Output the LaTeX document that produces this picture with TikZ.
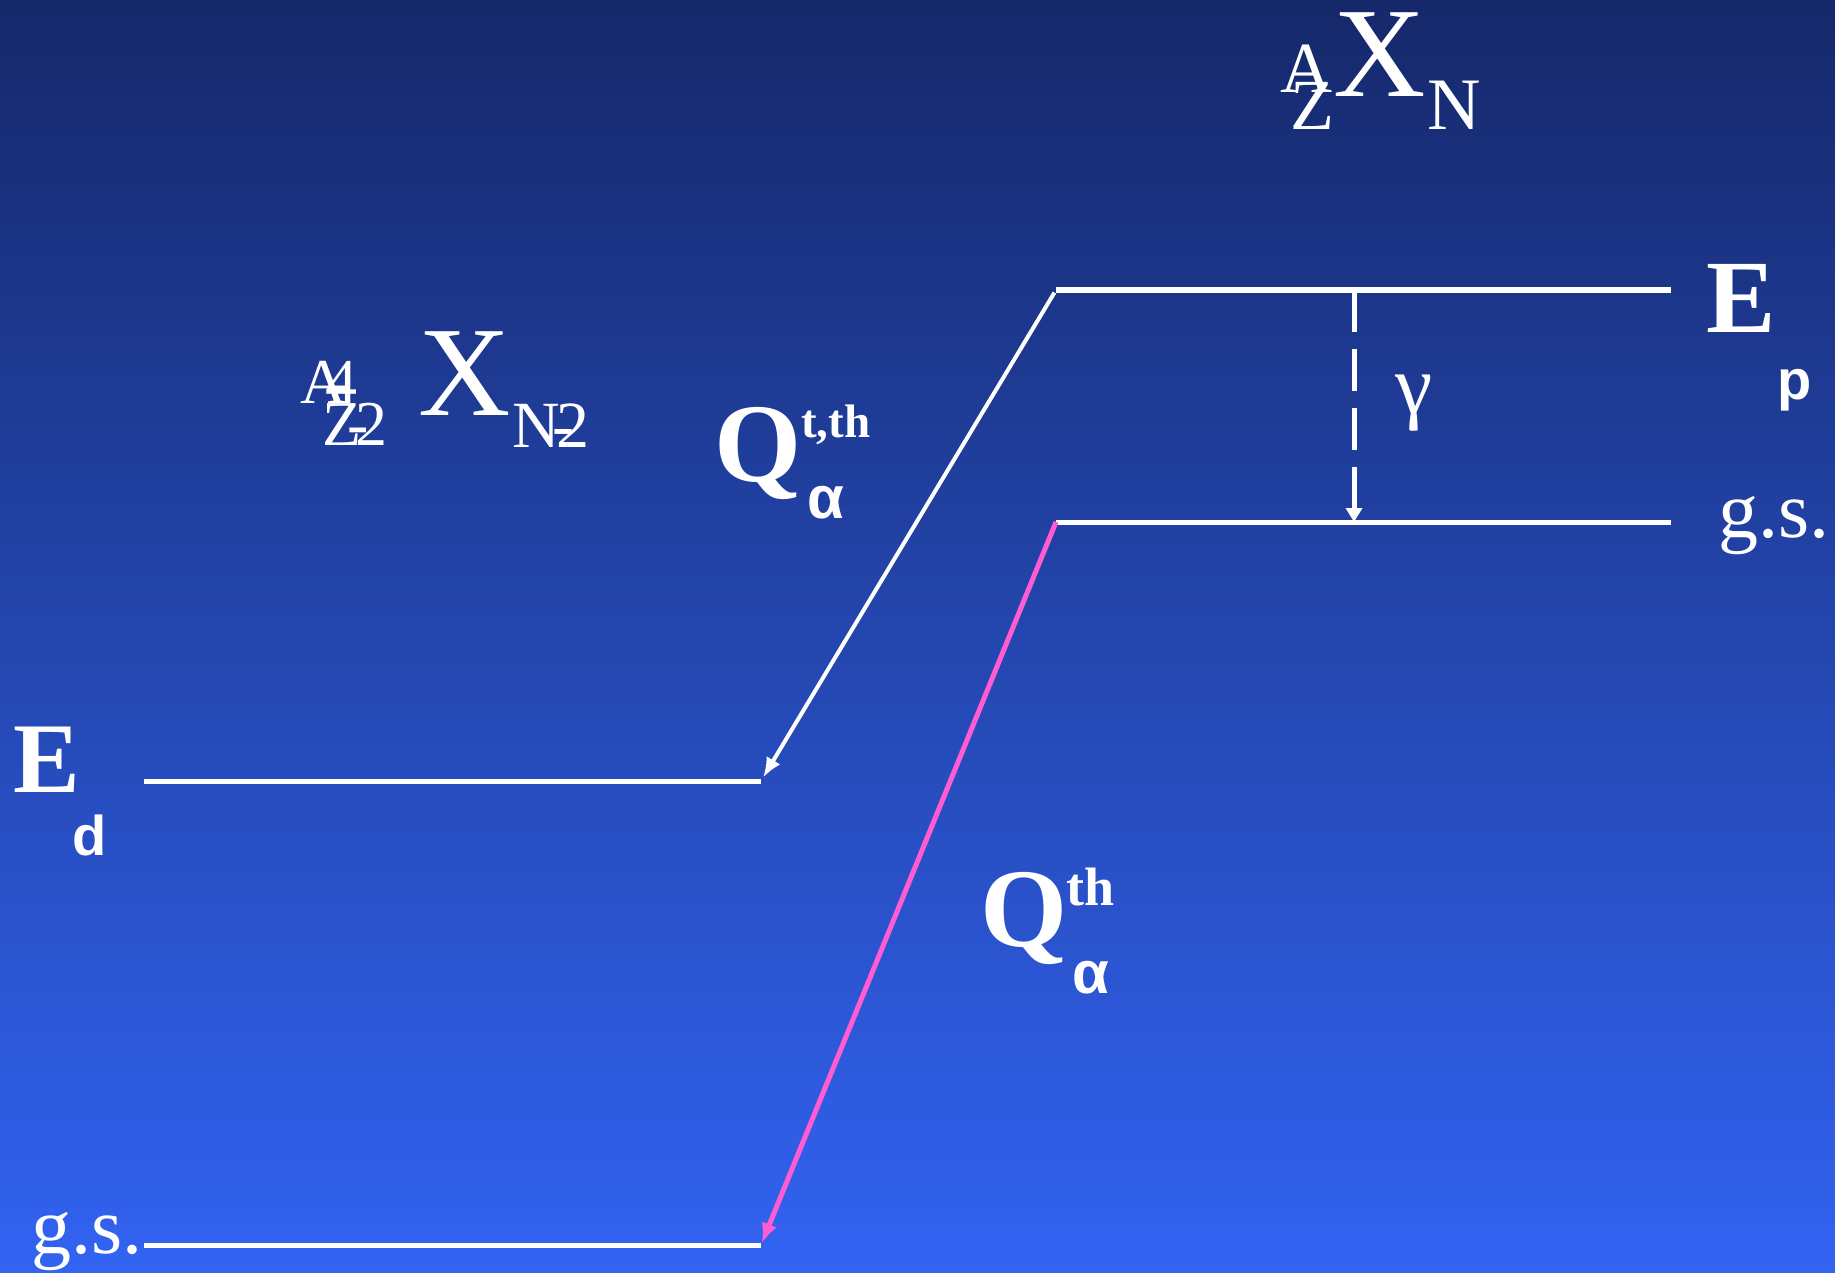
\documentclass[tikz,border=0pt]{standalone}
\usepackage{fontspec}
\setmainfont{Liberation Serif}
\newfontfamily\subsans{Liberation Sans}
\usetikzlibrary{arrows.meta}
\definecolor{bgtop}{RGB}{21,40,106}
\definecolor{bgbot}{RGB}{50,99,242}
\definecolor{decpink}{RGB}{255,92,210}
\newcommand{\fs}[1]{\fontsize{#1}{#1}\selectfont}
\tikzset{
	level/.style={white, line width=5pt},
	lbl/.style={text=white, inner sep=0pt, anchor=base west},
}

\begin{document}
\begin{tikzpicture}[x=1pt, y=-1pt, >={Latex[length=20pt,width=16pt]}]
		\begin{scope}
			\shade[top color=bgtop, bottom color=bgbot] (0,0) rectangle (1835,1273);
		\end{scope}
		\useasboundingbox (0,0) rectangle (1835,1273);

		% levels of the parent and the daughter
		\coordinate (pL) at (1056,290); \coordinate (pR) at (1671,290);
		\coordinate (pgL) at (1056,522); \coordinate (pgR) at (1671,522);
		\coordinate (dL) at (144,781); \coordinate (dR) at (761,781);
		\coordinate (dgL) at (144,1245); \coordinate (dgR) at (761,1245);
		\draw[level, line width=6pt] (pL) -- (pR);
		\foreach \a/\b in {pgL/pgR, dL/dR, dgL/dgR} {
				\draw[level] (\a) -- (\b);
			}

		% decays
		\draw[->, white, line width=4pt, shorten <=3pt, shorten >=4pt] (pL) -- (dR);
		\draw[->, decpink, line width=5pt, shorten >=2pt] (pgL) -- (dgR);
		\coordinate (gTop) at (1354,290); \coordinate (gBot) at (1354,522);
		\draw[->, white, line width=5pt, dash pattern=on 42pt off 17pt,
			>={Triangle[length=14pt,width=16pt]}] (gTop) -- (gBot);

		% nuclei
		\node[lbl, font=\fs{128}] (X) at (1333,97) {X};
		\node[lbl, font=\fs{72}] (XA) at (1280,93) {A};
		\node[lbl, font=\fs{72}] (XZ) at (1290,130) {Z};
		\node[lbl, font=\fs{74}] (XN) at (1427,130) {N};

		\node[lbl, font=\fs{128}] (Y) at (418,415) {X};
		\node[lbl, font=\fs{64}] (YA) at (300,403) {A\kern-20pt-\kern-22pt4};
		\node[lbl, font=\fs{64}] (YZ) at (322,445) {Z\kern-14pt-\kern-13pt2};
		\node[lbl, font=\fs{66}] (YN) at (512,447) {N\kern-7pt-\kern-18pt2};

		% Q values
		\node[lbl, font=\bfseries\fs{112}] (Qt) at (714,481) {Q};
		\node[lbl, font=\bfseries\fs{47}] (Qtsup) at (801,437) {t,th};
		\node[lbl, font=\subsans\bfseries\fs{60}] (Qtsub) at (807,518) {α};
		\node[lbl, font=\bfseries\fs{112}] (Qg) at (980,946) {Q};
		\node[lbl, font=\bfseries\fs{54}] (Qgsup) at (1066,905) {th};
		\node[lbl, font=\subsans\bfseries\fs{60}] (Qgsub) at (1072,993) {α};

		% level labels
		\node[lbl, font=\bfseries\fs{104}] (Ep) at (1706,332) {E};
		\node[lbl, font=\subsans\bfseries\fs{56}] (Epsub) at (1777,399) {p};
		\node[lbl, font=\bfseries\fs{100}] (Ed) at (13,792) {E};
		\node[lbl, font=\subsans\bfseries\fs{56}] (Edsub) at (72,855) {d};
		\node[lbl, font=\fs{80}] (gsP) at (1718,537) {g.s.};
		\node[lbl, font=\fs{80}] (gsD) at (31,1253) {g.s.};
		\node[lbl, font=\fs{84}] (gam) at (1395,413) {γ};
	\end{tikzpicture}
\end{document}
